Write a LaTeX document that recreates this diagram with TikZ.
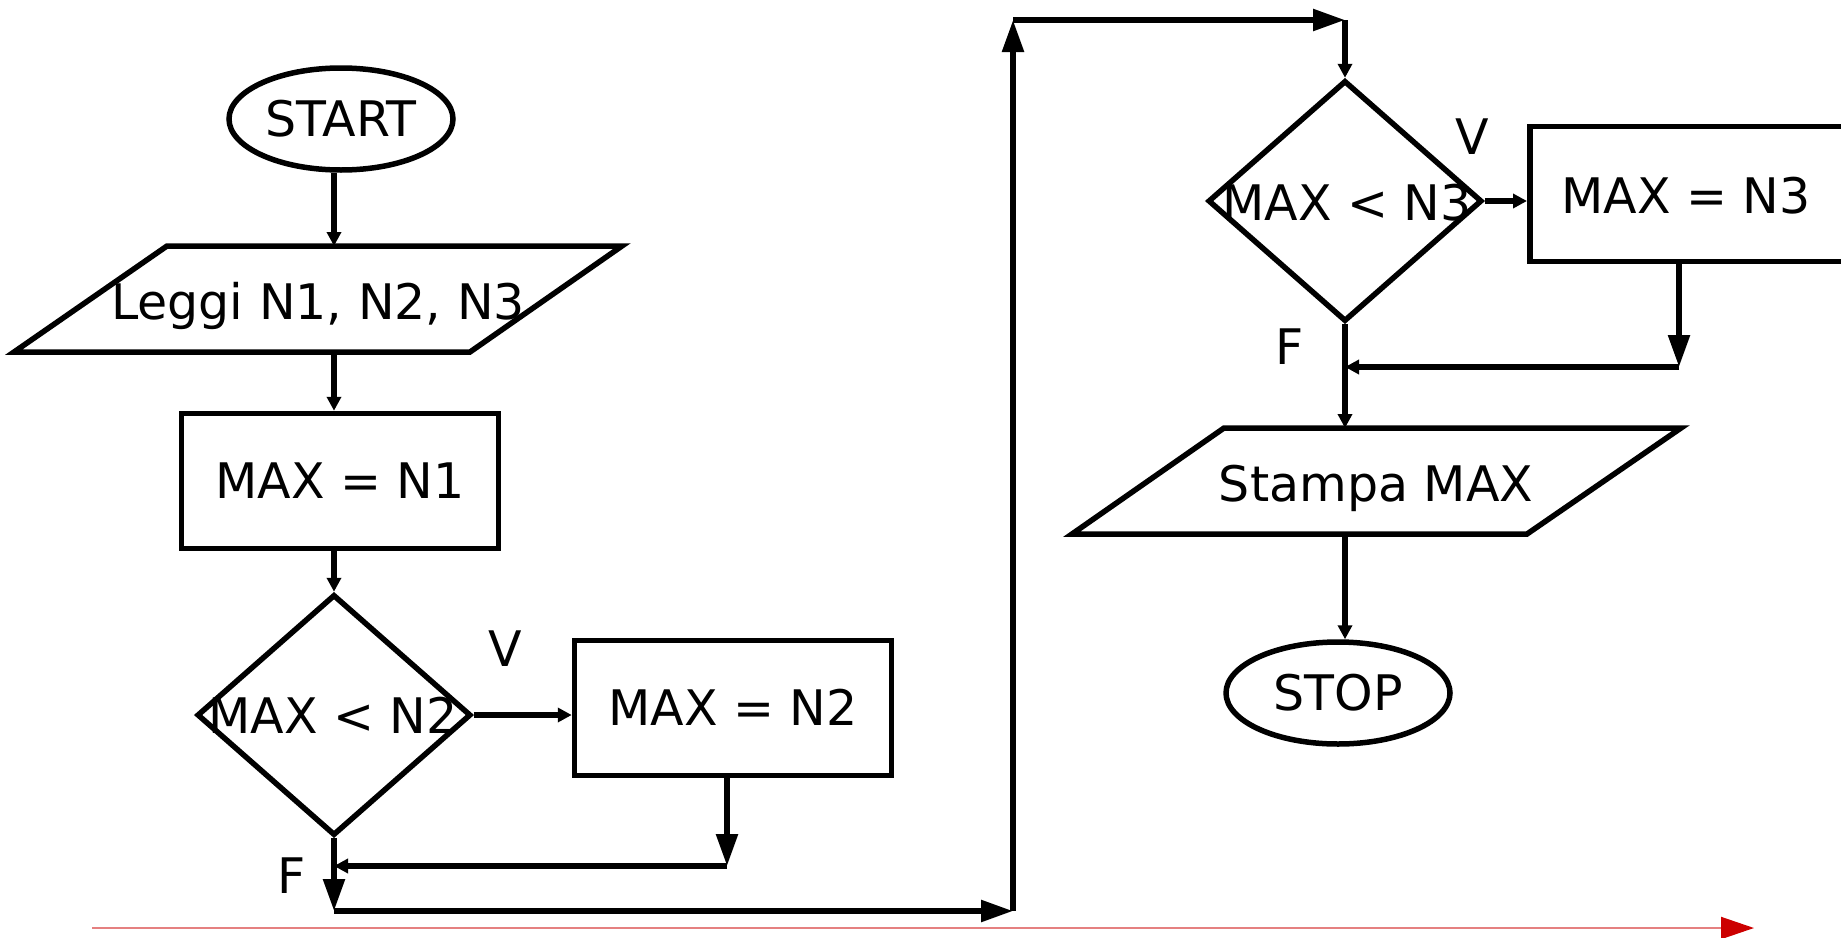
\documentclass[tikz,border=0pt]{standalone}
\usepackage{fontspec}
\setmainfont{DejaVu Sans}
\usetikzlibrary{arrows.meta,shapes.geometric}

\definecolor{rossoscuro}{HTML}{CC0000}
\definecolor{rossochiaro}{HTML}{E58080}

\tikzset{
  linea/.style={line width=5.5pt},
  tipS/.style={linea,-{Triangle[length=14pt,width=14pt]}},
  tipL/.style={linea,-{Triangle[length=32pt,width=21pt]}},
  testo/.style={font=\fontsize{49}{59}\selectfont, text height=35pt, text depth=0pt, inner sep=0pt},
  terminale/.style={ellipse, draw, linea, testo, minimum width=224pt, minimum height=102pt},
  blocco/.style={rectangle, draw, linea, testo, minimum width=317pt, minimum height=135pt},
  decisione/.style={diamond, draw, linea, inner sep=0pt, minimum width=274pt, minimum height=241pt}
}

\begin{document}
\begin{tikzpicture}[x=1pt,y=-1pt]
    \useasboundingbox (0,0) rectangle (1841,937);
    % colonna sinistra
    \node[terminale] (start) at (341,119) {START};
    \coordinate (leggiT) at (334,246);
    \coordinate (leggiB) at (334,352);
    \draw[linea] (167,246) -- (622,246) -- (470,352) -- (14,352) -- cycle;
    \node[testo] (leggi) at (318,302) {Leggi N1, N2, N3};
    \node[blocco] (maxn1) at (340,481) {MAX = N1};
    \node[decisione] (dec1) at (334,715) {};
    \node[testo] (dec1txt) at (333,716) {MAX < N2};
    \node[testo] (v1) at (505,649) {V};
    \node[blocco] (maxn2) at (733,708) {MAX = N2};
    \node[testo] (f1) at (292,876) {F};
    \coordinate (rientro1) at (727,866);
    \coordinate (giu1) at (334,911);
    \draw[tipS] (start.south -| leggiT) -- (leggiT);
    \draw[tipS] (leggiB) -- (leggiB |- maxn1.north);
    \draw[tipS] (maxn1.south -| dec1) -- (dec1.north);
    \draw[tipS] (dec1.east) -- (dec1.east -| maxn2.west);
    \draw[tipL] (maxn2.south -| rientro1) -- (rientro1);
    \draw[tipS] (rientro1) -- (rientro1 -| dec1);
    \draw[tipL] (dec1.south) -- (giu1);
    % collegamento alla seconda colonna
    \coordinate (angolo1) at (1013,911);
    \coordinate (angolo2) at (1013,20);
    \coordinate (angolo3) at (1345,20);
    \draw[tipL] (giu1) -- (angolo1);
    \draw[tipL] (angolo1) -- (angolo2);
    \draw[tipL] (angolo2) -- (angolo3);
    % colonna destra
    \node[decisione] (dec2) at (1345,201) {};
    \node[testo] (dec2txt) at (1347,203) {MAX < N3};
    \node[testo] (v2) at (1472,137) {V};
    \node[blocco, anchor=west, minimum width=600pt] (maxn3) at (1527,194) {};
    \node[testo] (maxn3txt) at (1686,196) {MAX = N3};
    \node[testo] (f2) at (1290,347) {F};
    \coordinate (rientro2) at (1679,367);
    \draw[tipS] (angolo3) -- (dec2.north);
    \draw[tipS] (dec2.east) -- (dec2.east -| maxn3.west);
    \draw[tipL] (maxn3.south -| rientro2) -- (rientro2);
    \draw[tipS] (rientro2) -- (rientro2 -| dec2);
    \coordinate (stampaT) at (1345,428);
    \coordinate (stampaB) at (1345,534);
    \draw[linea] (1224,428) -- (1681,428) -- (1527,534) -- (1072,534) -- cycle;
    \node[testo] (stampa) at (1376,484) {Stampa MAX};
    \draw[tipS] (dec2.south) -- (stampaT);
    \node[terminale] (stop) at (1338,693) {STOP};
    \draw[tipS] (stampaB) -- (stampaB |- stop.north);
    % freccia rossa in basso
    \coordinate (asseA) at (92,928);
    \coordinate (asseB) at (1754,928);
    \draw[line width=2pt, rossochiaro, -{Triangle[length=33pt,width=22pt,color=rossoscuro]}] (asseA) -- (asseB);
\end{tikzpicture}
\end{document}
